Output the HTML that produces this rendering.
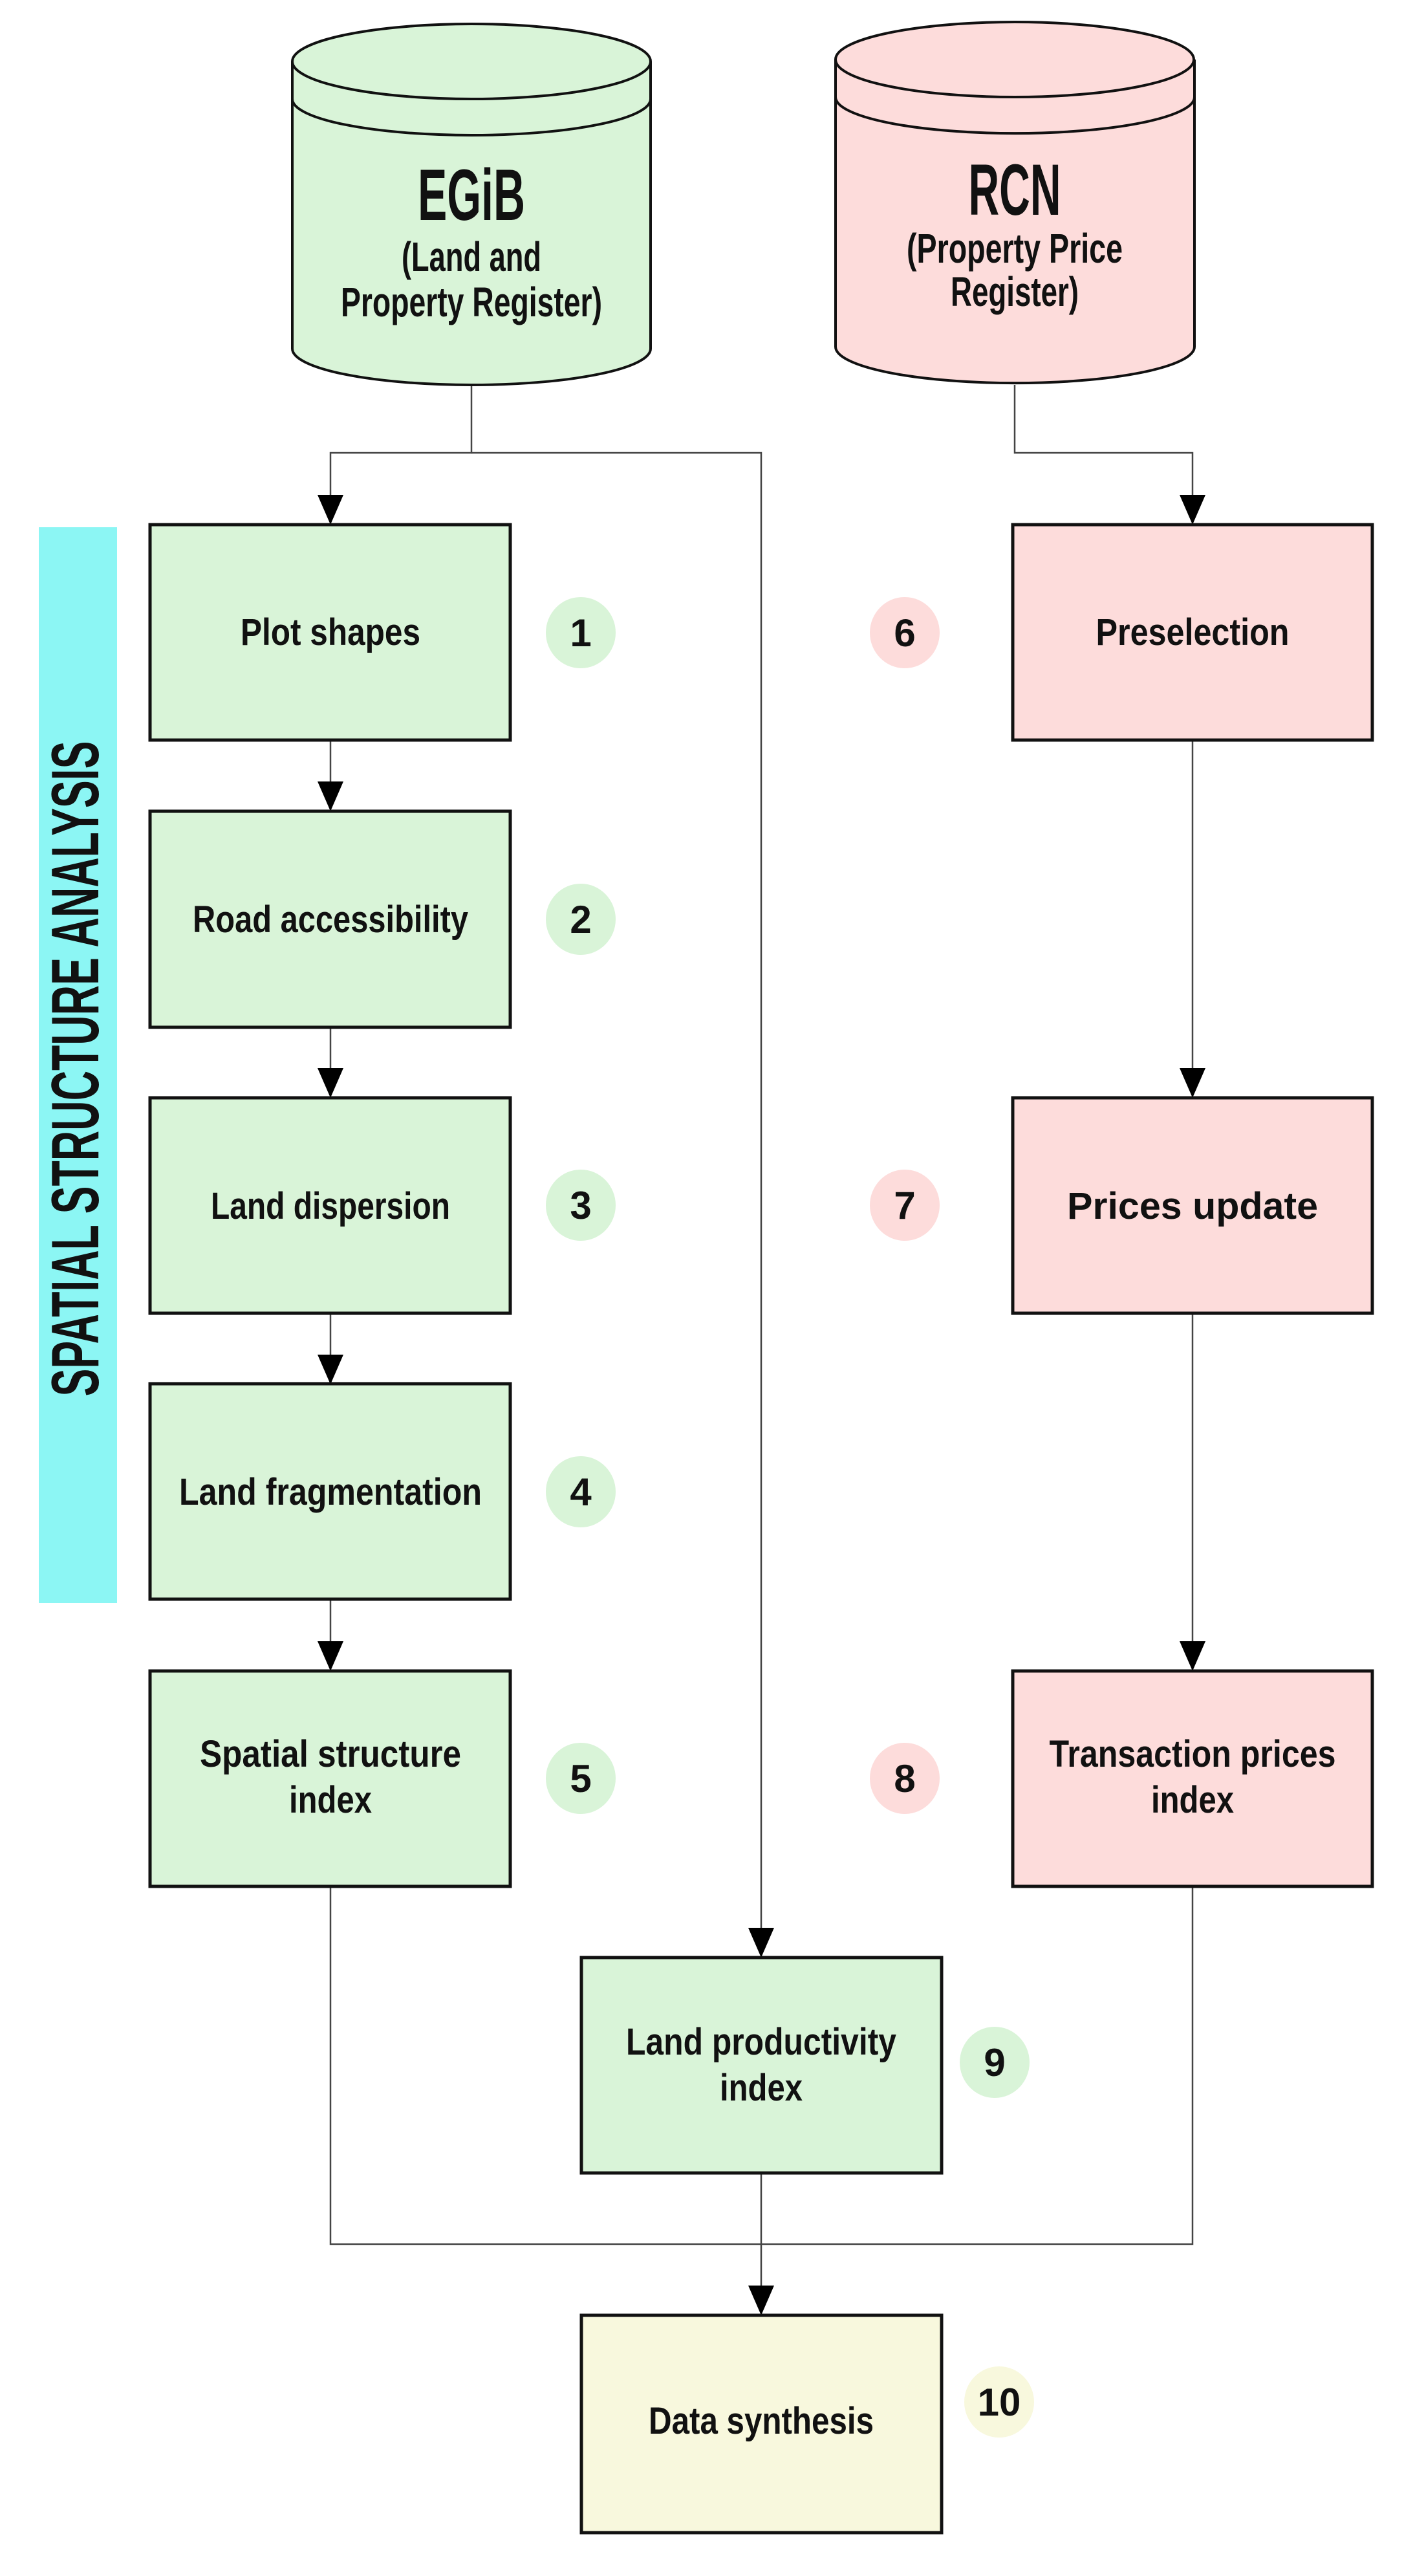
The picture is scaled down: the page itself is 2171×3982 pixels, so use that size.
<!DOCTYPE html>
<html><head><meta charset="utf-8"><style>
html,body{margin:0;padding:0;background:#fff}
svg{display:block}
text{font-family:"Liberation Sans Narrow","Liberation Sans",sans-serif;font-weight:bold;fill:#111}
</style></head><body>
<svg width="2171" height="3982" viewBox="0 0 2171 3982" xmlns="http://www.w3.org/2000/svg">
<defs>
<marker id="a" markerWidth="40" markerHeight="50" refX="20" refY="50" orient="auto" markerUnits="userSpaceOnUse" viewBox="0 0 40 50">
</marker>
</defs>
<!-- cyan bar -->
<rect x="60" y="815" width="121" height="1663" fill="#8cf6f4"/>
<text transform="translate(152,1652) rotate(-90)" text-anchor="middle" font-size="104" textLength="1013" lengthAdjust="spacingAndGlyphs">SPATIAL STRUCTURE ANALYSIS</text>

<!-- connectors -->
<g stroke="#444" stroke-width="2.5" fill="none">
<polyline points="729,595 729,700 511,700 511,770"/>
<polyline points="729,700 1177,700 1177,2985"/>
<polyline points="1569,595 1569,700 1844,700 1844,770"/>
<line x1="511" y1="1144" x2="511" y2="1212"/>
<line x1="511" y1="1588" x2="511" y2="1655"/>
<line x1="511" y1="2030" x2="511" y2="2098"/>
<line x1="511" y1="2472" x2="511" y2="2541"/>
<line x1="1844" y1="1144" x2="1844" y2="1655"/>
<line x1="1844" y1="2030" x2="1844" y2="2541"/>
<polyline points="511,2916 511,3469 1844,3469 1844,2916"/>
<line x1="1177" y1="3359" x2="1177" y2="3540"/>
</g>
<g fill="#000">
<polygon points="491,765 531,765 511,811"/>
<polygon points="1824,765 1864,765 1844,811"/>
<polygon points="491,1208 531,1208 511,1254"/>
<polygon points="491,1651 531,1651 511,1697"/>
<polygon points="491,2094 531,2094 511,2140"/>
<polygon points="491,2537 531,2537 511,2583"/>
<polygon points="1824,1651 1864,1651 1844,1697"/>
<polygon points="1824,2537 1864,2537 1844,2583"/>
<polygon points="1157,2980 1197,2980 1177,3026"/>
<polygon points="1157,3533 1197,3533 1177,3579"/>
</g>

<!-- cylinders -->
<g stroke="#111" stroke-width="4">
<path d="M452,95 L452,539 A277,56 0 0 0 1006,539 L1006,95" fill="#d9f4d8"/>
<ellipse cx="729" cy="95" rx="277" ry="58" fill="#d9f4d8"/>
<path d="M452,153 A277,56 0 0 0 1006,153" fill="none"/>
<path d="M1292,92 L1292,536 A277,56 0 0 0 1847,536 L1847,92" fill="#fddcdb"/>
<ellipse cx="1569" cy="92" rx="277" ry="58" fill="#fddcdb"/>
<path d="M1292,150 A277,56 0 0 0 1847,150" fill="none"/>
</g>
<text x="729" y="340" text-anchor="middle" font-size="112" textLength="166" lengthAdjust="spacingAndGlyphs">EGiB</text>
<text x="729" y="419" text-anchor="middle" font-size="64" textLength="216" lengthAdjust="spacingAndGlyphs">(Land and</text>
<text x="729" y="489" text-anchor="middle" font-size="64" textLength="404" lengthAdjust="spacingAndGlyphs">Property Register)</text>
<text x="1569" y="332" text-anchor="middle" font-size="112" textLength="143" lengthAdjust="spacingAndGlyphs">RCN</text>
<text x="1569" y="406" text-anchor="middle" font-size="64" textLength="334" lengthAdjust="spacingAndGlyphs">(Property Price</text>
<text x="1569" y="473" text-anchor="middle" font-size="64" textLength="198" lengthAdjust="spacingAndGlyphs">Register)</text>

<!-- boxes -->
<g stroke="#111" stroke-width="5">
<rect x="232" y="811" width="557" height="333" fill="#d9f4d8"/>
<rect x="232" y="1254" width="557" height="334" fill="#d9f4d8"/>
<rect x="232" y="1697" width="557" height="333" fill="#d9f4d8"/>
<rect x="232" y="2139" width="557" height="333" fill="#d9f4d8"/>
<rect x="232" y="2583" width="557" height="333" fill="#d9f4d8"/>
<rect x="1566" y="811" width="556" height="333" fill="#fddcdb"/>
<rect x="1566" y="1697" width="556" height="333" fill="#fddcdb"/>
<rect x="1566" y="2583" width="556" height="333" fill="#fddcdb"/>
<rect x="899" y="3026" width="557" height="333" fill="#d9f4d8"/>
<rect x="899" y="3579" width="557" height="336" fill="#f8f8dd"/>
</g>
<g font-size="58" text-anchor="middle">
<text x="511" y="997" textLength="278" lengthAdjust="spacingAndGlyphs">Plot shapes</text>
<text x="511" y="1441" textLength="426" lengthAdjust="spacingAndGlyphs">Road accessibility</text>
<text x="511" y="1884" textLength="370" lengthAdjust="spacingAndGlyphs">Land dispersion</text>
<text x="511" y="2326" textLength="468" lengthAdjust="spacingAndGlyphs">Land fragmentation</text>
<text x="511" y="2731" textLength="404" lengthAdjust="spacingAndGlyphs">Spatial structure</text>
<text x="511" y="2802" textLength="128" lengthAdjust="spacingAndGlyphs">index</text>
<text x="1844" y="997" textLength="299" lengthAdjust="spacingAndGlyphs">Preselection</text>
<text x="1844" y="1884" textLength="388" lengthAdjust="spacingAndGlyphs">Prices update</text>
<text x="1844" y="2731" textLength="443" lengthAdjust="spacingAndGlyphs">Transaction prices</text>
<text x="1844" y="2802" textLength="128" lengthAdjust="spacingAndGlyphs">index</text>
<text x="1177" y="3176" textLength="418" lengthAdjust="spacingAndGlyphs">Land productivity</text>
<text x="1177" y="3247" textLength="128" lengthAdjust="spacingAndGlyphs">index</text>
<text x="1177" y="3762" textLength="348" lengthAdjust="spacingAndGlyphs">Data synthesis</text>
</g>

<!-- badges -->
<g>
<ellipse cx="898" cy="978" rx="54" ry="55" fill="#d9f4d8"/>
<ellipse cx="898" cy="1421" rx="54" ry="55" fill="#d9f4d8"/>
<ellipse cx="898" cy="1863" rx="54" ry="55" fill="#d9f4d8"/>
<ellipse cx="898" cy="2306" rx="54" ry="55" fill="#d9f4d8"/>
<ellipse cx="898" cy="2749" rx="54" ry="55" fill="#d9f4d8"/>
<ellipse cx="1399" cy="978" rx="54" ry="55" fill="#fddcdb"/>
<ellipse cx="1399" cy="1863" rx="54" ry="55" fill="#fddcdb"/>
<ellipse cx="1399" cy="2749" rx="54" ry="55" fill="#fddcdb"/>
<ellipse cx="1538" cy="3188" rx="54" ry="55" fill="#d9f4d8"/>
<ellipse cx="1545" cy="3713" rx="54" ry="55" fill="#f8f8dd"/>
</g>
<g font-size="60" text-anchor="middle">
<text x="898" y="999">1</text>
<text x="898" y="1442">2</text>
<text x="898" y="1884">3</text>
<text x="898" y="2327">4</text>
<text x="898" y="2770">5</text>
<text x="1399" y="999">6</text>
<text x="1399" y="1884">7</text>
<text x="1399" y="2770">8</text>
<text x="1538" y="3209">9</text>
<text x="1545" y="3734">10</text>
</g>
</svg>
</body></html>
